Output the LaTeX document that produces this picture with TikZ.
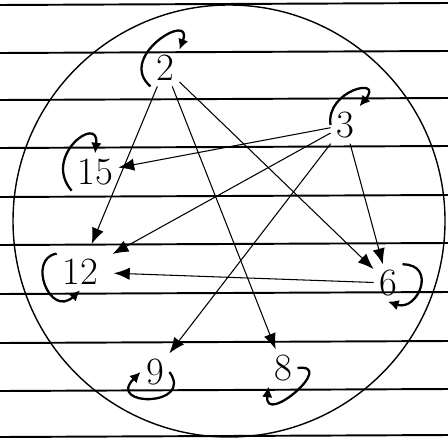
\documentclass[tikz,border=0pt]{standalone}
\usetikzlibrary{arrows.meta}

\begin{document}
\begin{tikzpicture}[
    x=0.02cm, y=-0.02cm,
    num/.style={inner sep=3pt, font=\fontsize{22}{26}\selectfont},
    edge/.style={draw, line width=0.6pt, -{Latex[length=9pt,width=7pt]}},
    loopy/.style={draw, line width=1.3pt, -{Latex[length=6pt,width=6pt]}},
    ruled/.style={line width=1.1pt}
  ]
    \useasboundingbox (0,0) rectangle (448,439);
    % paper lines
    \foreach \yy in {5,53,100,148,197,245,294,343,391,437}
      \draw[ruled] (0,\yy) -- (448,\yy-2);
    % outer circle
    \draw[line width=0.8pt] (229,221) circle[radius=216];

    \node[num] (n2) at (165,68) {2};
    \node[num] (n3) at (345,125) {3};
    \node[num] (n15) at (95,172) {15};
    \node[num] (n12) at (80,272) {12};
    \node[num] (n6) at (388,283) {6};
    \node[num] (n9) at (155,372) {9};
    \node[num] (n8) at (283,368) {8};

    \draw[edge, shorten >=6pt] (n2) -- (n12);
    \draw[edge] (n2) -- (n8);
    \draw[edge] (n2) -- (n6);
    \draw[edge] (n3) -- (n15);
    \draw[edge, shorten >=6pt] (n3) -- (n12);
    \draw[edge] (n3) -- (n9);
    \draw[edge] (n3) -- (n6);
    \draw[edge, shorten >=6pt] (n6) -- (n12);

    % self loops
    \draw[loopy] (n2.south west) .. controls +(-35,-30) and +(15,-40) .. (n2.north east);
    \draw[loopy] (n3.west) .. controls +(-5,-35) and +(25,-30) .. (n3.north east);
    \draw[loopy] (n15.south west) .. controls +(-30,-35) and +(5,-40) .. (n15.north);
    \draw[loopy] (n12.north west) .. controls +(-30,5) and +(-30,28) .. (n12.south);
    \draw[loopy] (n6.north east) .. controls +(35,0) and +(30,10) .. (n6.south);
    \draw[loopy] (n9.east) .. controls +(25,35) and +(-35,35) .. (n9.west);
    \draw[loopy] (n8.east) .. controls +(40,-5) and +(-5,40) .. (n8.south west);
\end{tikzpicture}
\end{document}
